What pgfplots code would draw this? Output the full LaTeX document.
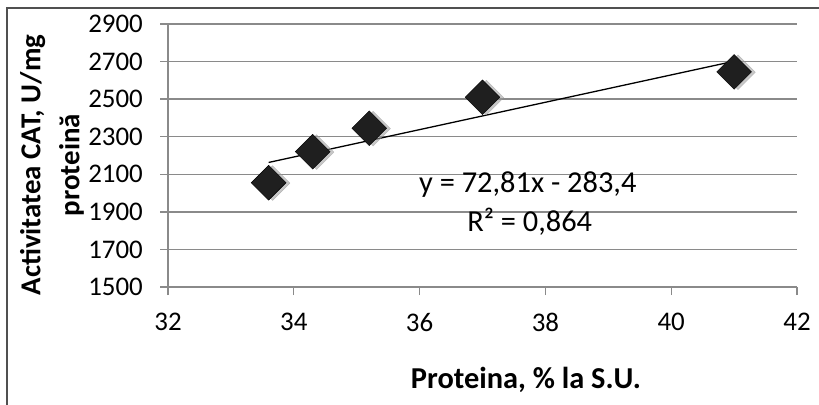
\documentclass[border=0pt]{standalone}
\usepackage{pgfplots}
\pgfplotsset{compat=1.18}
\usepackage{fontspec}
\setmainfont{Carlito}
\definecolor{gridc}{HTML}{8A8A8A}
\definecolor{framec}{HTML}{505050}
\begin{document}
\begin{tikzpicture}[x=1bp,y=1bp]
\begin{axis}[
  at={(168bp,117bp)}, anchor=south west,
  scale only axis, width=629bp, height=263bp,
  xmin=32, xmax=42, ymin=1500, ymax=2900,
  xtick={32,34,...,42}, ytick={1500,1700,...,2900},
  axis x line*=bottom, axis y line*=left,
  axis line style={color=gridc, line width=1.3bp},
  ymajorgrids, grid style={gridc, line width=1.3bp},
  tick style={gridc, line width=1.3bp}, tick align=outside,
  major tick length=8bp,
  /pgf/number format/assume math mode=true,
  /pgf/number format/set thousands separator={},
  ticklabel style={font=\fontsize{27}{30}\selectfont},
  yticklabel style={inner sep=0pt, xshift=-17bp},
  xticklabel style={inner sep=0pt, yshift=-18bp},
  clip=false,
]
% shadow
\addplot[only marks, mark=square*, mark size=12.3bp,
  mark options={rotate=45, fill=black!40, draw=black!40, opacity=0.55},
  every mark/.append style={xshift=2.5bp, yshift=-3bp}]
  coordinates {(33.6,2055) (34.3,2220) (35.2,2345) (37.0,2510) (41.0,2645)};
\addplot[only marks, mark=square*, mark size=12.3bp,
  mark options={rotate=45, fill=black!88, draw=black}]
  coordinates {(33.6,2055) (34.3,2220) (35.2,2345) (37.0,2510) (41.0,2645)};
% linear trendline y = 72.81x - 283.4
\addplot[black, line width=1.3bp] coordinates {(33.6,2163.0) (41.0,2701.8)};
\node[font=\fontsize{30.5}{32}\selectfont] at (axis cs:37.72,2043) {y = 72,81x - 283,4};
\node[font=\fontsize{30.5}{32}\selectfont] at (axis cs:37.75,1846) {R² = 0,864};
\end{axis}
\node[rotate=90, align=center, font=\bfseries\fontsize{29}{39}\selectfont] at (52,239) {Activitatea CAT, U/mg\\proteină};
\node[font=\bfseries\fontsize{30.5}{34}\selectfont] at (526,24) {Proteina, \% la S.U.};
\draw[line width=1.8bp, framec] (7,-20) -- (7,396) -- (840,396);
\pgfresetboundingbox
\useasboundingbox (0,0) rectangle (819,404);
\end{tikzpicture}
\end{document}
